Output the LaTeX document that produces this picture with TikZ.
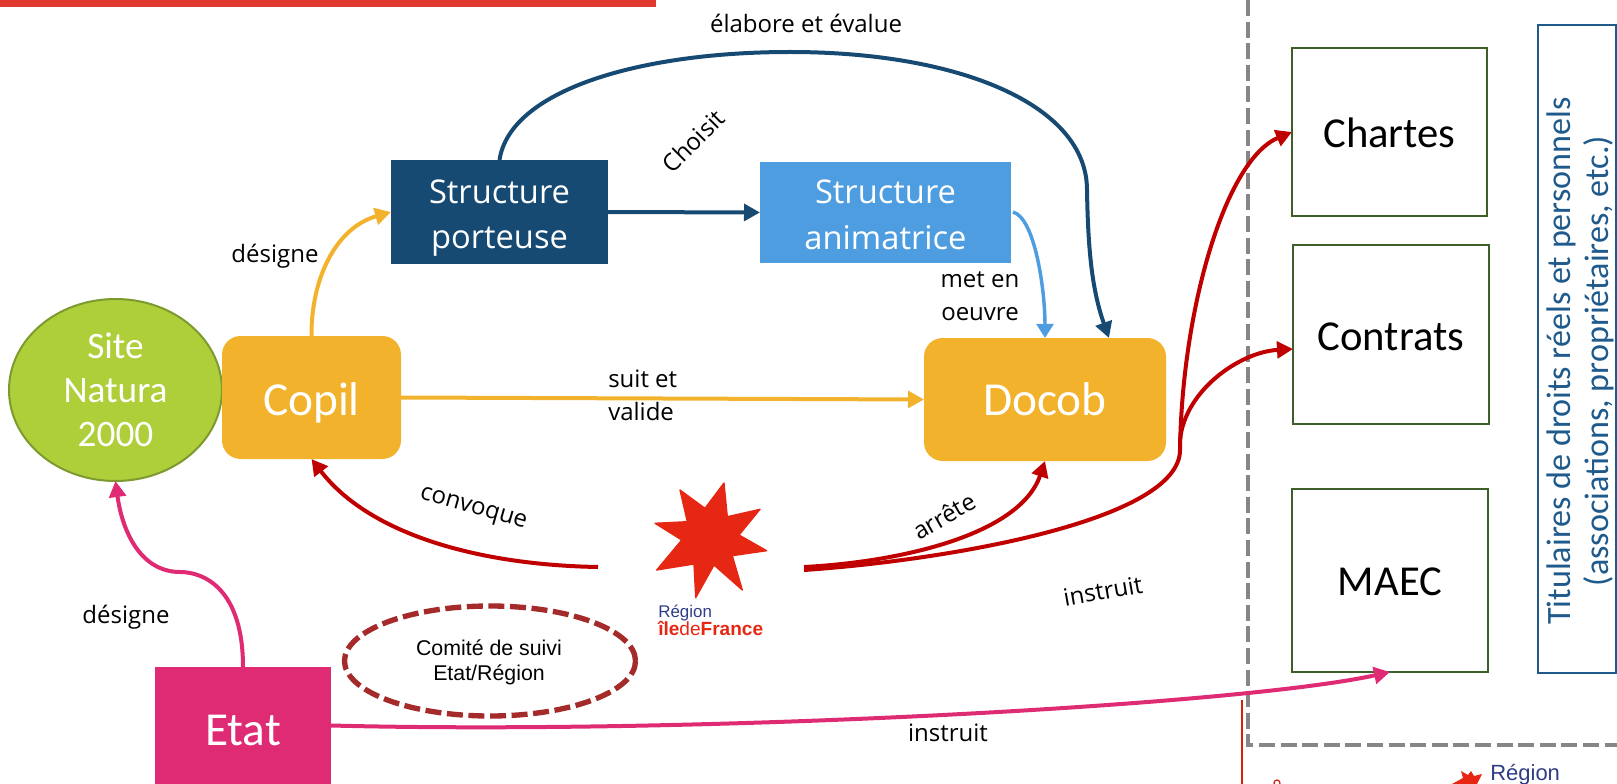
\documentclass[tikz,border=0pt]{standalone}
\usepackage{fontspec}
\setmainfont{Carlito}
\newfontfamily\arialf{Liberation Sans}
\newfontfamily\segf{Open Sans}
\usetikzlibrary{arrows.meta,calc,shapes.geometric}
\definecolor{cyellow}{HTML}{F3B22C}
\definecolor{cnavy}{HTML}{174A72}
\definecolor{cblue}{HTML}{4E9DE0}
\definecolor{cgreen}{HTML}{AECF3A}
\definecolor{cgreenb}{HTML}{7C9A2E}
\definecolor{cpink}{HTML}{DE2B74}
\definecolor{cred}{HTML}{C00000}
\definecolor{cstar}{HTML}{E52713}
\definecolor{cbar}{HTML}{E03A30}
\definecolor{cdark}{HTML}{3F5F2A}
\definecolor{cbrown}{HTML}{A52A2A}
\definecolor{ctit}{HTML}{1F5A8C}
\definecolor{cgray}{HTML}{868686}
\definecolor{cregion}{HTML}{2F3C86}
\tikzset{
  sz/.style 2 args={minimum width=#1*0.75pt,minimum height=#2*0.75pt,inner sep=0pt,outer sep=0pt},
  lab/.style={font=\segf\fontsize{18}{25}\selectfont,text=black,inner sep=0pt,align=center},
  filled/.style={font=\segf\fontsize{24.5}{34}\selectfont,text=white,align=center},
  bigfilled/.style={font=\fontsize{35.5}{42}\selectfont,text=white,align=center},
  outbox/.style={draw=cdark,line width=1.9pt,fill=white,font=\fontsize{32}{38}\selectfont,text=black},
  conn/.style={line width=3pt,-{Triangle[length=12pt,width=12.5pt]}},
  thinconn/.style={line width=2.6pt,-{Triangle[length=10.5pt,width=12.5pt]}},
}
\begin{document}
\begin{tikzpicture}[x=0.75pt,y=-0.75pt]
\useasboundingbox (0,0) rectangle (1617,784);
\clip (0,0) rectangle (1617,784);
% top bar
\fill[cbar] (0,0) rectangle (656,7);
% dashed frame
\draw[cgray,line width=3.7pt,dash pattern=on 12pt off 4.2pt] (1248,0) -- (1248,745) -- (1617,745);
% thin red line
\draw[cstar!90!black,line width=1.2pt] (1242,700) -- (1242,784);
\draw[cstar!90!black,line width=0.9pt] (1277,783) circle (3);
% nodes
\node[sz={213}{182},ellipse,draw=cgreenb,line width=1.5pt,fill=cgreen,filled,font=\fontsize{28}{33}\selectfont] (site) at (115.5,390) {Site\\Natura\\2000};
\node[sz={179}{123},rectangle,rounded corners=14pt,fill=cyellow,bigfilled] (copil) at (311.5,397.5) {\rule{0pt}{32pt}Copil};
\node[sz={217}{104},rectangle,fill=cnavy,filled] (porteuse) at (499.5,212) {\rule{0pt}{26.5pt}Structure\\porteuse};
\node[sz={251}{101},rectangle,fill=cblue,filled] (animatrice) at (885.5,212.5) {\rule{0pt}{21pt}Structure\\animatrice};
\node[sz={242}{123},rectangle,rounded corners=14pt,fill=cyellow,bigfilled] (docob) at (1045,399.5) {Docob};
\node[sz={195}{168},rectangle,outbox] (chartes) at (1389.5,132) {\rule{0pt}{24pt}Chartes};
\node[sz={196}{179},rectangle,outbox] (contrats) at (1391,334.5) {\rule{0pt}{24pt}Contrats};
\node[sz={196}{183},rectangle,outbox] (maec) at (1390,580.5) {\rule{0pt}{22pt}MAEC};
\node[sz={176}{117},rectangle,fill=cpink,bigfilled] (etat) at (243,725.5) {\rule{0pt}{31pt}Etat};
\node[sz={78}{648},rectangle,draw=ctit,line width=1.5pt,fill=white] (titbox) at (1577,349) {};
\node[rotate=90,text=ctit,font=\fontsize{25.6}{28.6}\selectfont,align=center,inner sep=0pt] (tit) at (1580,361) {Titulaires de droits réels et personnels\\(associations, propriétaires, etc.)};
\node[sz={291}{110},ellipse,draw=cbrown,line width=4pt,dash pattern=on 12pt off 4.2pt,fill=white] (comite) at (490,661) {};
\node[font=\arialf\fontsize{16}{18.75}\selectfont,align=center,inner sep=0pt] (comitetxt) at (489,662) {Comité de suivi\\Etat/Région};
% star logo
\filldraw[cstar,line width=1pt,line join=round] (724,483) -- (727.3,516.7) -- (760,509.3) -- (739,535) -- (766.7,550.7) -- (732.3,555.7) -- (742.3,590) -- (714,565) -- (695.7,597.7) -- (694,564) -- (656.7,570) -- (681.7,540) -- (655,523.3) -- (687.3,521.7) -- (680,490) -- (705,508.3) -- cycle;
\node[inner sep=0pt,align=left,anchor=west,font=\arialf] (logo) at (658,620) {\fontsize{12.7}{12}\selectfont\textcolor{cregion}{Région}\\[-1pt]\fontsize{14.3}{13}\selectfont\textcolor{cstar}{\textbf{île}de\textbf{France}}};
% bottom-right logo
\fill[cstar] (1452,784) -- (1463,778) -- (1461,771) -- (1468,775) -- (1471,771) -- (1474,776) -- (1482,774) -- (1477,784) -- cycle;
\node[inner sep=0pt,anchor=west,font=\arialf\fontsize{16.5}{16}\selectfont,text=cregion] (logob) at (1490,775) {Région};
% free ends
\coordinate (navyin) at (1109,338);
\coordinate (contin) at (1293,349);
\coordinate (blueout) at (1013,212);
\coordinate (starL) at (598,567);
\coordinate (starR) at (804,567);
\coordinate (starRb) at (804,570);
\coordinate (fork) at (1180,440);
% connectors
\draw[cyellow,conn] (copil.north) .. controls (311,280) and (335,228) .. (porteuse.west);
\draw[cnavy,conn] (porteuse.east) -- (animatrice.west);
\draw[cnavy,conn] (porteuse.north) .. controls (510,90) and (640,52) .. (790,52) .. controls (960,52) and (1087,105) .. (1087,190) .. controls (1088,250) and (1092,290) .. (navyin);
\draw[cblue,thinconn] (blueout) .. controls (1035,218) and (1045,290) .. (docob.north);
\draw[cyellow,conn] (copil.east) -- (docob.west);
\draw[cred,conn] (starL) .. controls (480,565) and (370,535) .. (copil.south);
\draw[cred,conn] (starR) .. controls (900,562) and (1020,535) .. (docob.south);
\draw[cred,conn] (starRb) .. controls (950,560) and (1180,520) .. (1180,450) .. controls (1182,310) and (1225,160) .. (chartes.west);
\draw[cred,conn] (fork) .. controls (1185,390) and (1240,352) .. (contin);
\draw[cpink,conn] (etat.north) .. controls (243,590) and (205,572) .. (180,572) .. controls (140,572) and (122,530) .. (site.south);
\draw[cpink,conn] (etat.east) .. controls (700,735) and (1240,705) .. (maec.south);
% labels
\node[lab] (l1) at (806,23) {élabore et évalue};
\node[lab,rotate=45] (l2) at (693,141) {Choisit};
\node[lab] (l3) at (275,256) {désigne};
\node[lab,align=left,anchor=west] (l4) at (608,395) {suit et\\valide};
\node[lab] (l5) at (980,296.5) {met en\\oeuvre};
\node[lab,rotate=-16] (l6) at (473,510) {convoque};
\node[lab,rotate=30] (l7) at (944,516) {arrête};
\node[lab,rotate=10] (l8) at (1103,591) {instruit};
\node[lab] (l9) at (126,617) {désigne};
\node[lab] (l10) at (948,733) {instruit};
\end{tikzpicture}
\end{document}
